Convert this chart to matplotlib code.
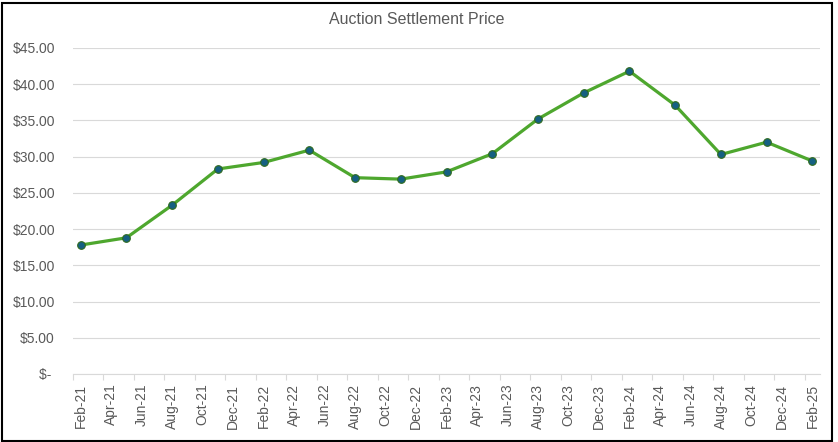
import matplotlib.pyplot as plt
import pandas as pd
from matplotlib.patches import Rectangle

# quarterly auction results
months = ['Feb-21', 'May-21', 'Aug-21', 'Nov-21', 'Feb-22', 'May-22', 'Aug-22', 'Nov-22',
          'Feb-23', 'May-23', 'Aug-23', 'Nov-23', 'Feb-24', 'May-24', 'Aug-24', 'Nov-24',
          'Feb-25']
prices = [17.8, 18.8, 23.3, 28.3, 29.2, 30.9, 27.1, 26.9,
          27.9, 30.4, 35.2, 38.8, 41.8, 37.1, 30.3, 32.0,
          29.4]

tick_labels = ['Feb-21', 'Apr-21', 'Jun-21', 'Aug-21', 'Oct-21', 'Dec-21',
               'Feb-22', 'Apr-22', 'Jun-22', 'Aug-22', 'Oct-22', 'Dec-22',
               'Feb-23', 'Apr-23', 'Jun-23', 'Aug-23', 'Oct-23', 'Dec-23',
               'Feb-24', 'Apr-24', 'Jun-24', 'Aug-24', 'Oct-24', 'Dec-24',
               'Feb-25']
y_ticks = [0, 5, 10, 15, 20, 25, 30, 35, 40, 45]

TEXT = '#595959'
GRID = '#d9d9d9'


def month_index(labels):
    d = pd.to_datetime(labels, format='%b-%y')
    return (d.year - 2021) * 12 + d.month - 2


def money(v):
    return '$- ' if v == 0 else f'${v:,.2f}'


plt.rcParams['font.family'] = ['Liberation Sans', 'DejaVu Sans']

fig = plt.figure(figsize=(8.38, 4.42), dpi=100)
ax = fig.add_axes([73 / 838, 1 - 374 / 442, 747 / 838, 326 / 442])

x = month_index(months)
ax.plot(x, prices, color='#4ea72e', linewidth=2.3, marker='o', markersize=5.5,
        markerfacecolor='#156082', markeredgecolor='#2f6b1f', markeredgewidth=0.8,
        zorder=3)

# date axis, one slot per month, labels centred in slot
tx = month_index(tick_labels)
ax.set_xlim(-0.5, 48.5)
ax.set_xticks(tx)
ax.set_xticklabels(tick_labels, rotation=90)
ax.set_xticks([i - 0.5 for i in tx], minor=True)
ax.tick_params(axis='x', which='major', length=0, pad=7, labelsize=10, labelcolor=TEXT)
ax.tick_params(axis='x', which='minor', length=4, width=0.8, color=GRID)

ax.set_ylim(0, 45)
ax.set_yticks(y_ticks)
ax.set_yticklabels([money(v) for v in y_ticks])
ax.tick_params(axis='y', length=0, pad=13, labelsize=10, labelcolor=TEXT)
ax.yaxis.grid(True, color=GRID, linewidth=0.8)
ax.set_axisbelow(True)

for s in ['top', 'right', 'left']:
    ax.spines[s].set_visible(False)
ax.spines['bottom'].set_color(GRID)
ax.spines['bottom'].set_linewidth(0.8)

fig.text(0.497, 1 - 20 / 442, 'Auction Settlement Price', ha='center', va='center',
         fontsize=11.5, color=TEXT)

# chart border
fig.patches.append(Rectangle((1.5 / 838, 1.5 / 442), 830 / 838, 438 / 442,
                             transform=fig.transFigure, fill=False,
                             edgecolor='black', linewidth=1.5))

fig.savefig('out.png', dpi=100)
